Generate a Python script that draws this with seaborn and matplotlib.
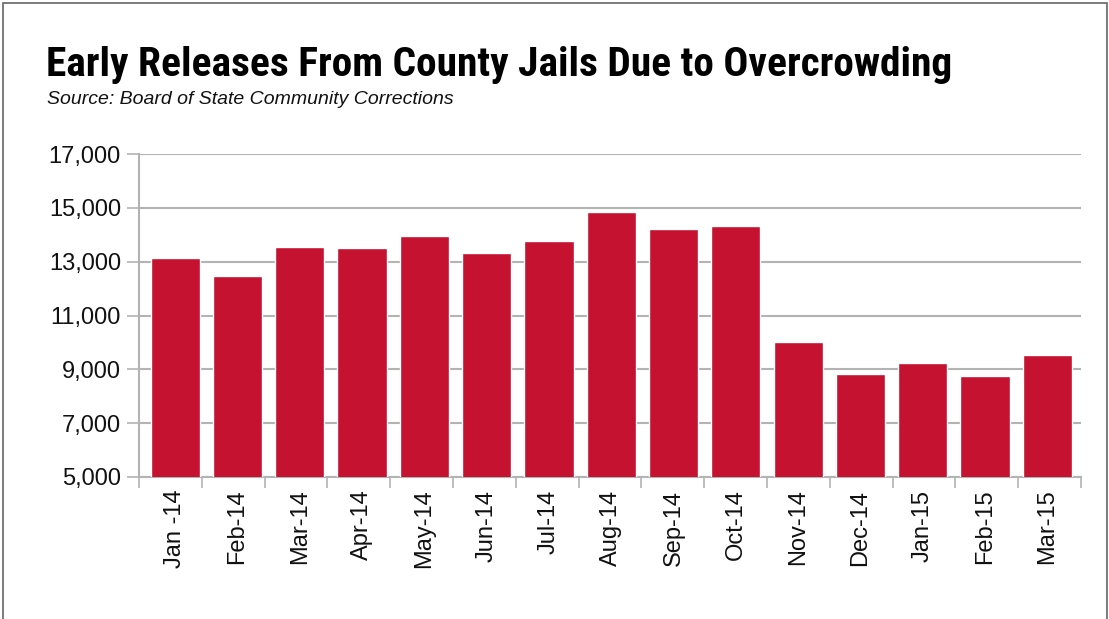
import matplotlib
matplotlib.use("Agg")
import matplotlib.pyplot as plt
import seaborn as sns
import pandas as pd
import numpy as np
from matplotlib.patches import Rectangle
from matplotlib.ticker import FuncFormatter

# dados
months = ["Jan -14", "Feb-14", "Mar-14", "Apr-14", "May-14", "Jun-14", "Jul-14",
          "Aug-14", "Sep-14", "Oct-14", "Nov-14", "Dec-14", "Jan-15", "Feb-15", "Mar-15"]
releases = [13140, 12480, 13560, 13490, 13970, 13340, 13780,
            14860, 14230, 14340, 10000, 8810, 9220, 8740, 9550]
y_ticks = [5000, 7000, 9000, 11000, 13000, 15000, 17000]

df = pd.DataFrame({"month": months, "releases": releases})

sns.set_theme(style="white")
plt.rcParams["font.family"] = ["Liberation Sans", "DejaVu Sans"]

fig = plt.figure(figsize=(11.09, 6.19), dpi=100)
ax = fig.add_axes([139 / 1109, 1 - 477 / 619, (1081 - 139) / 1109, (477 - 154) / 619])

sns.barplot(data=df, x="month", y="releases", color="#C41230", width=0.79,
            saturation=1, ax=ax, zorder=3)

# barras levemente deslocadas para a direita, como no original
x_lo, x_hi = -0.58, len(months) - 0.46
ax.set_xlim(x_lo, x_hi)
ax.set_ylim(5000, 17000)
ax.set_yticks(y_ticks)
ax.yaxis.set_major_formatter(FuncFormatter(lambda v, p: f"{int(v):,}"))
ax.grid(axis="y", color="#b3b3b3", linewidth=1.5, zorder=0)
ax.set_axisbelow(True)

# ticks do eixo x entre as barras
ax.set_xticks(range(len(months)))
ax.set_xticklabels(months, rotation=90, fontsize=17, color="#111111")
ax.set_xticks(np.linspace(x_lo, x_hi, len(months) + 1), minor=True)
ax.tick_params(axis="x", which="major", length=0, pad=9)
ax.tick_params(axis="x", which="minor", length=8, width=1.2, color="#b3b3b3", bottom=True)
ax.tick_params(axis="y", length=9, width=1.2, color="#b3b3b3", labelsize=17,
               labelcolor="#111111", pad=4, left=True)

for s in ["top", "right"]:
    ax.spines[s].set_visible(False)
for s in ["left", "bottom"]:
    ax.spines[s].set_color("#b3b3b3")
    ax.spines[s].set_linewidth(1.5)

ax.set_xlabel("")
ax.set_ylabel("")

fig.text(46 / 1109, 1 - 65 / 619, "Early Releases From County Jails Due to Overcrowding",
         fontsize=29.8, fontweight="bold", family=["Roboto Condensed", "DejaVu Sans"],
         va="center", color="#000000")
fig.text(47 / 1109, 1 - 99 / 619, "Source: Board of State Community Corrections",
         fontsize=14, style="italic", va="center", color="#111111")

# moldura
fig.patches.append(Rectangle((3 / 1109, -0.01), 1 - 5 / 1109, 1 - 3 / 619 + 0.01,
                             transform=fig.transFigure, fill=False,
                             edgecolor="#666666", linewidth=1.2))

fig.savefig("out.png", dpi=100)
